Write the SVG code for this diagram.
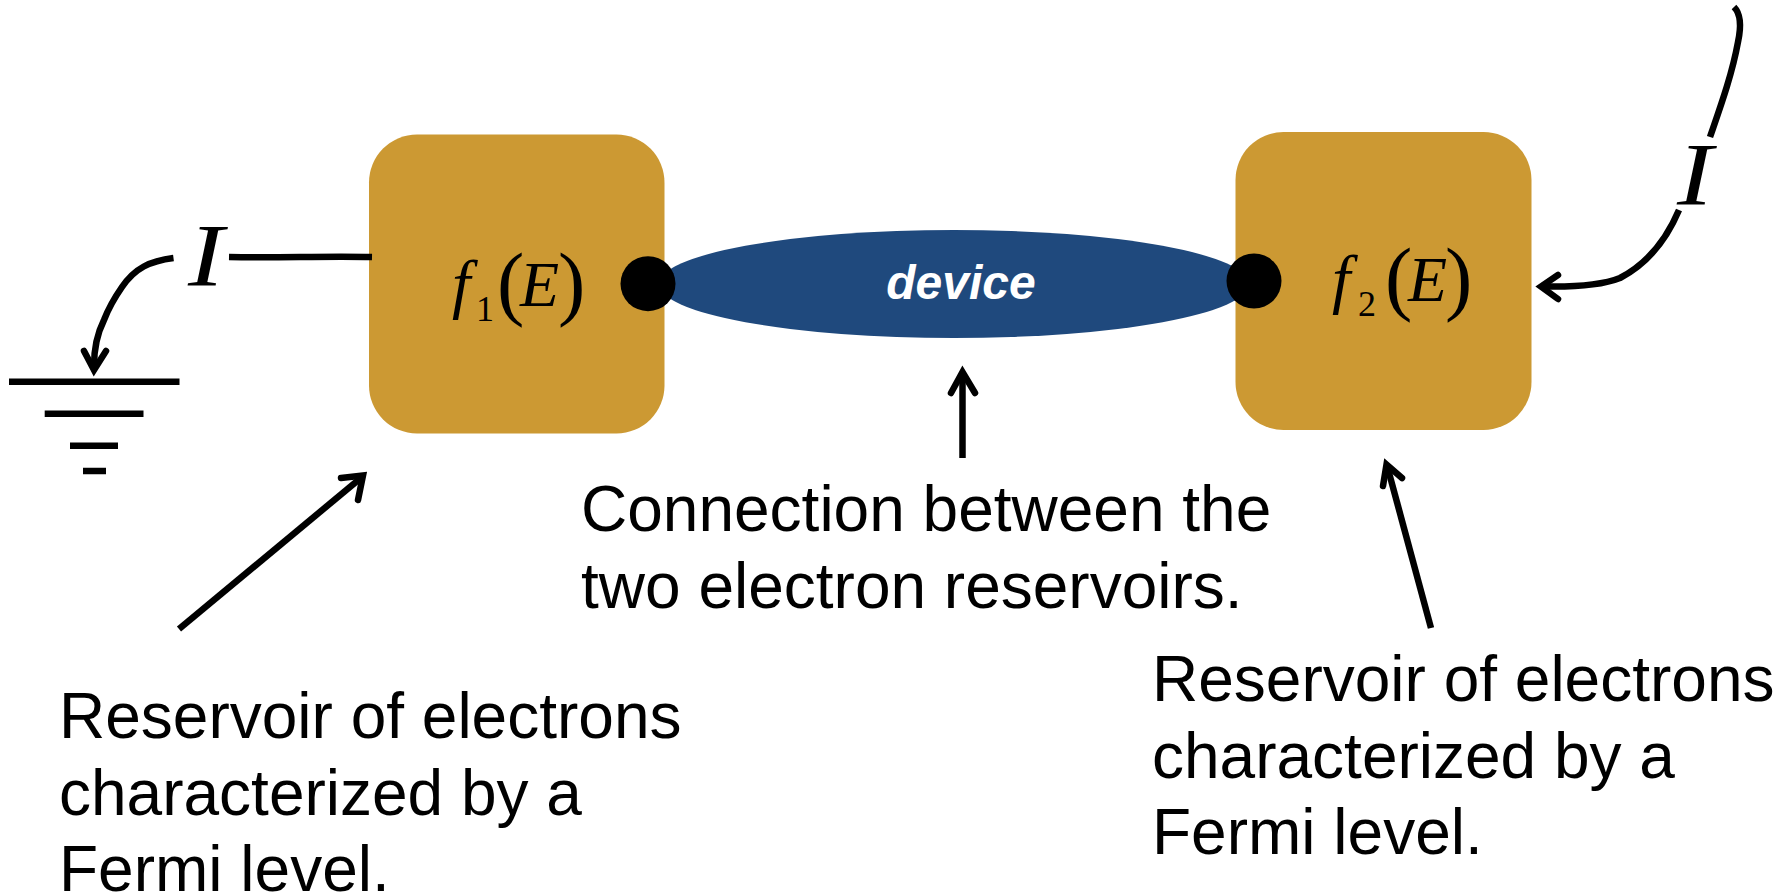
<svg xmlns="http://www.w3.org/2000/svg" width="1790" height="895" viewBox="0 0 1790 895">
<style>
.res{fill:#CC9933}
.dot{fill:#000}
.t{font-family:"Liberation Sans",Arial,sans-serif;font-size:64px;fill:#000}
.m{font-family:"Liberation Serif","Times New Roman",serif;fill:#000}
.i{font-style:italic}
.w{fill:none;stroke:#000;stroke-width:6.5}
.h{fill:none;stroke:#000;stroke-width:6.5;stroke-linecap:round;stroke-linejoin:miter}
.g{stroke:#000;stroke-width:6.5}
</style>
<rect width="1790" height="895" fill="#fff"/>
<g id="reservoir-1"><rect class="res" x="369" y="134.500" width="295.500" height="299" rx="48" ry="48"/>
<text class="m i" x="452" y="305.500" font-size="66">f</text><text class="m" x="476" y="321" font-size="36">1</text>
<text class="m" x="497" y="310" font-size="82">(</text><text class="m i" x="520" y="305.500" font-size="64">E</text><text class="m" x="558" y="310" font-size="82">)</text></g>
<g id="reservoir-2"><rect class="res" x="1235.500" y="132" width="296" height="298" rx="48" ry="48"/>
<text class="m i" x="1332" y="301" font-size="66">f</text><text class="m" x="1358" y="316" font-size="36">2</text>
<text class="m" x="1385" y="305" font-size="82">(</text><text class="m i" x="1408" y="301" font-size="64">E</text><text class="m" x="1445" y="305" font-size="82">)</text></g>
<g id="device"><ellipse cx="954" cy="284" rx="295" ry="54" fill="#1F497D"/>
<text x="961" y="299" text-anchor="middle" font-family="'Liberation Sans',Arial,sans-serif" font-size="48" font-weight="bold" font-style="italic" fill="#fff">device</text></g>
<g id="contact-1"><circle class="dot" cx="648" cy="283.700" r="27.500"/></g>
<g id="contact-2"><circle class="dot" cx="1254" cy="281" r="27.500"/></g>
<g id="ground"><line class="g" x1="9" y1="381.700" x2="179.500" y2="381.700"/><line class="g" x1="44.700" y1="413.700" x2="143.500" y2="413.700"/><line class="g" x1="70" y1="445.700" x2="118" y2="445.700"/><line class="g" x1="83" y1="471" x2="106" y2="471"/></g>
<g id="connectors">
<path class="w" d="M229 257C280 258 320 256 372 257"/>
<path class="w" d="M173.500 258C150 261 135 268 122 287C113 300 109 307 104 320C96 336 94 350 94 366"/>
<path class="h" d="M84 351L94 370L106 351"/>
<path class="w" d="M1734 7C1741 14 1741 28 1738 42C1732 75 1720 108 1710 137"/>
<path class="w" d="M1679 210C1665 243 1645 265 1620 278C1600 286 1570 287 1544 286.500"/>
<path class="h" d="M1558 275L1541 286.500L1558 299"/>
<path class="w" d="M962.500 458V377"/>
<path class="h" d="M951 393L962.500 372L975 393"/>
<path class="w" d="M179 629L362 477"/>
<path class="h" d="M341 478L363 475.500L358 500"/>
<path class="w" d="M1431 628L1388 469"/>
<path class="h" d="M1383 486L1386.500 464.500L1402 478"/>
</g>
<g id="labels">
<text class="m i" transform="translate(188 285) scale(1.22 1)" font-size="88">I</text>
<text class="m i" transform="translate(1677 204) scale(1.22 1)" font-size="88">I</text>
<text class="t" x="59" y="738">Reservoir of electrons</text>
<text class="t" x="59" y="814.500">characterized by a</text>
<text class="t" x="59" y="891">Fermi level.</text>
<text class="t" x="581" y="531">Connection between the</text>
<text class="t" x="581" y="608">two electron reservoirs.</text>
<text class="t" x="1152" y="701">Reservoir of electrons</text>
<text class="t" x="1152" y="777.500">characterized by a</text>
<text class="t" x="1152" y="854">Fermi level.</text>
</g>
</svg>
